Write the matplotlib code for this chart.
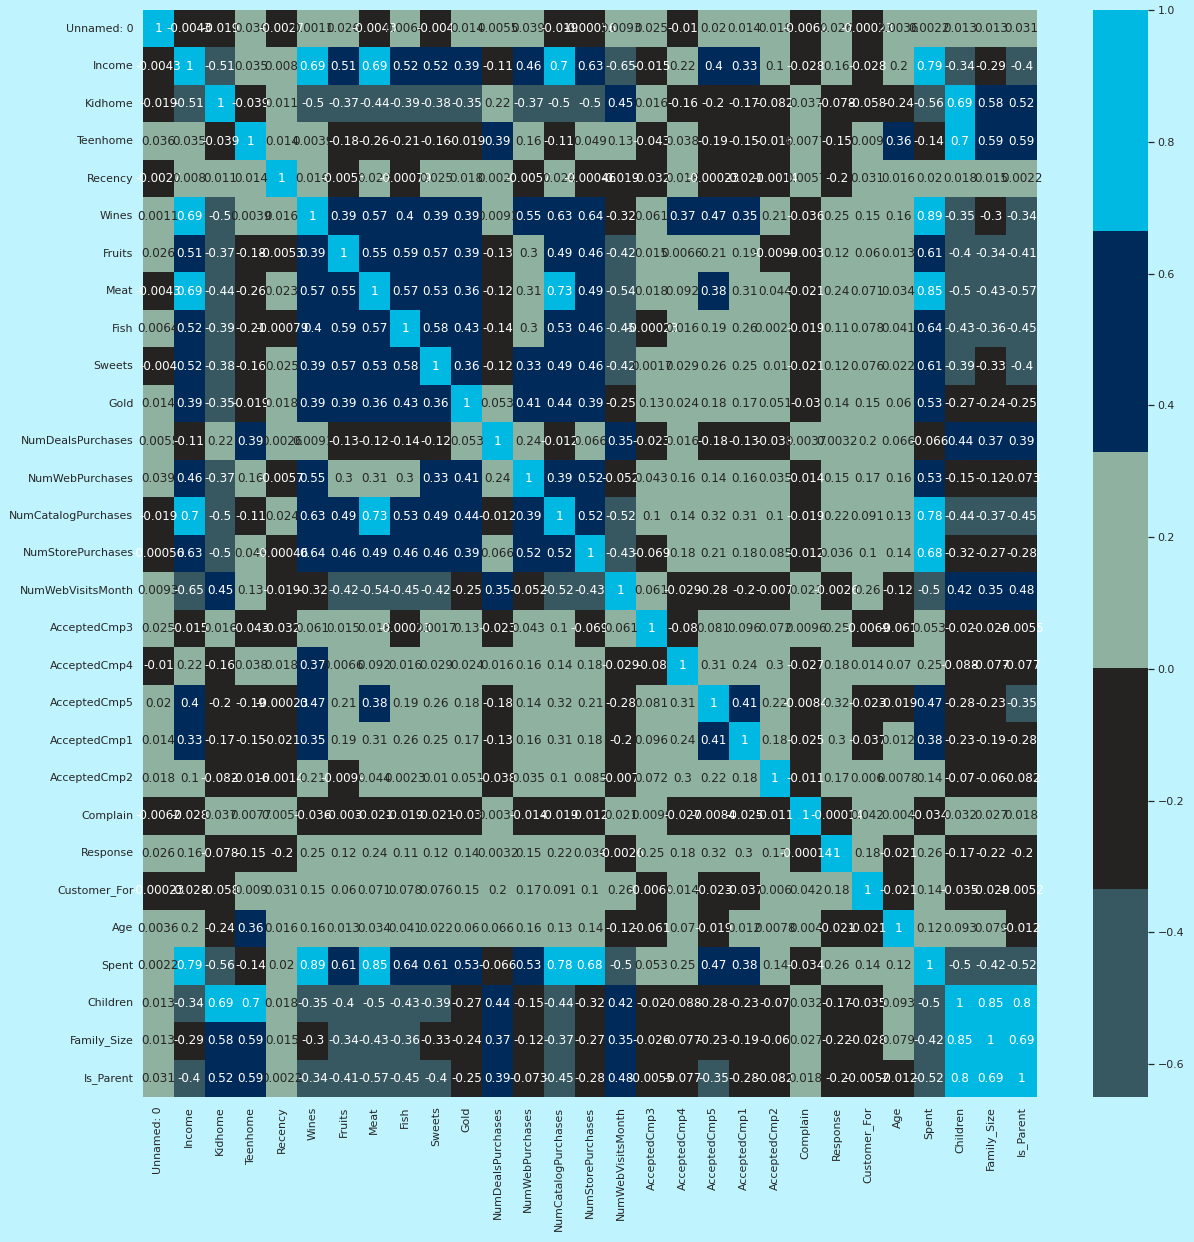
import numpy as np
import pandas as pd
import matplotlib
matplotlib.use("Agg")
import matplotlib.pyplot as plt
from matplotlib import colors
import seaborn as sns

labels = ["Unnamed: 0", "Income", "Kidhome", "Teenhome", "Recency", "Wines", "Fruits",
          "Meat", "Fish", "Sweets", "Gold", "NumDealsPurchases", "NumWebPurchases",
          "NumCatalogPurchases", "NumStorePurchases", "NumWebVisitsMonth", "AcceptedCmp3",
          "AcceptedCmp4", "AcceptedCmp5", "AcceptedCmp1", "AcceptedCmp2", "Complain",
          "Response", "Customer_For", "Age", "Spent", "Children", "Family_Size", "Is_Parent"]

# correlation of each variable with the variables listed after it
unnamed = [-0.0043, -0.019, 0.036, -0.0027, 0.0011, 0.026, -0.0043, 0.0064, -0.004, 0.014,
           0.0055, 0.039, -0.019, -0.00056, 0.0093, 0.025, -0.01, 0.02, 0.014, 0.018,
           -0.0062, 0.026, -0.00023, 0.0036, 0.0022, 0.013, 0.013, 0.031]
income = [-0.51, 0.035, 0.008, 0.69, 0.51, 0.69, 0.52, 0.52, 0.39, -0.11, 0.46, 0.7, 0.63,
          -0.65, -0.015, 0.22, 0.4, 0.33, 0.1, -0.028, 0.16, -0.028, 0.2, 0.79, -0.34, -0.29, -0.4]
kidhome = [-0.039, 0.011, -0.5, -0.37, -0.44, -0.39, -0.38, -0.35, 0.22, -0.37, -0.5, -0.5,
           0.45, 0.016, -0.16, -0.2, -0.17, -0.082, 0.037, -0.078, -0.058, -0.24, -0.56,
           0.69, 0.58, 0.52]
teenhome = [0.014, 0.0039, -0.18, -0.26, -0.21, -0.16, -0.019, 0.39, 0.16, -0.11, 0.049,
            0.13, -0.043, 0.038, -0.19, -0.15, -0.016, 0.0077, -0.15, 0.009, 0.36, -0.14,
            0.7, 0.59, 0.59]
recency = [0.016, -0.0053, 0.023, -0.00079, 0.025, 0.018, 0.0026, -0.0057, 0.024, -0.00046,
           -0.019, -0.032, 0.018, -0.00023, -0.021, -0.0014, 0.0057, -0.2, 0.031, 0.016,
           0.02, 0.018, 0.015, 0.0022]
wines = [0.39, 0.57, 0.4, 0.39, 0.39, 0.0091, 0.55, 0.63, 0.64, -0.32, 0.061, 0.37, 0.47,
         0.35, 0.21, -0.036, 0.25, 0.15, 0.16, 0.89, -0.35, -0.3, -0.34]
fruits = [0.55, 0.59, 0.57, 0.39, -0.13, 0.3, 0.49, 0.46, -0.42, 0.015, 0.0066, 0.21, 0.19,
          -0.0099, -0.003, 0.12, 0.06, 0.013, 0.61, -0.4, -0.34, -0.41]
meat = [0.57, 0.53, 0.36, -0.12, 0.31, 0.73, 0.49, -0.54, 0.018, 0.092, 0.38, 0.31, 0.044,
        -0.021, 0.24, 0.071, 0.034, 0.85, -0.5, -0.43, -0.57]
fish = [0.58, 0.43, -0.14, 0.3, 0.53, 0.46, -0.45, -0.00023, 0.016, 0.19, 0.26, 0.0023,
        -0.019, 0.11, 0.078, 0.041, 0.64, -0.43, -0.36, -0.45]
sweets = [0.36, -0.12, 0.334, 0.49, 0.46, -0.42, 0.0017, 0.029, 0.26, 0.25, 0.01, -0.021,
          0.12, 0.076, 0.022, 0.61, -0.39, -0.33, -0.4]
gold = [0.053, 0.41, 0.44, 0.39, -0.25, 0.13, 0.024, 0.18, 0.17, 0.051, -0.03, 0.14, 0.15,
        0.06, 0.53, -0.27, -0.24, -0.25]
deals = [0.24, -0.012, 0.066, 0.35, -0.023, 0.016, -0.18, -0.13, -0.038, 0.0037, 0.0032,
         0.2, 0.066, -0.066, 0.44, 0.37, 0.39]
web = [0.39, 0.52, -0.052, 0.043, 0.16, 0.14, 0.16, 0.035, -0.014, 0.15, 0.17, 0.16, 0.53,
       -0.15, -0.12, -0.073]
catalog = [0.52, -0.52, 0.1, 0.14, 0.32, 0.31, 0.1, -0.019, 0.22, 0.091, 0.13, 0.78, -0.44,
           -0.37, -0.45]
store = [-0.43, -0.069, 0.18, 0.21, 0.18, 0.085, -0.012, 0.036, 0.1, 0.14, 0.68, -0.32,
         -0.27, -0.28]
visits = [0.061, -0.029, -0.28, -0.2, -0.007, 0.021, -0.0026, 0.26, -0.12, -0.5, 0.42, 0.35, 0.48]
cmp3 = [-0.08, 0.081, 0.096, 0.072, 0.0096, 0.25, -0.0069, -0.061, 0.053, -0.02, -0.026, -0.0055]
cmp4 = [0.31, 0.24, 0.3, -0.027, 0.18, 0.014, 0.07, 0.25, -0.088, -0.077, -0.077]
cmp5 = [0.41, 0.22, -0.0084, 0.32, -0.023, -0.019, 0.47, -0.28, -0.23, -0.35]
cmp1 = [0.18, -0.025, 0.3, -0.037, 0.012, 0.38, -0.23, -0.19, -0.28]
cmp2 = [-0.011, 0.17, 0.006, 0.0078, 0.14, -0.07, -0.06, -0.082]
complain = [-0.00014, 0.042, 0.004, -0.034, 0.032, 0.027, 0.018]
response = [0.18, -0.021, 0.26, -0.17, -0.22, -0.2]
customer_for = [-0.021, 0.14, -0.035, -0.028, -0.0052]
age = [0.12, 0.093, 0.079, -0.012]
spent = [-0.5, -0.42, -0.52]
children = [0.85, 0.8]
family_size = [0.69]

rows = [unnamed, income, kidhome, teenhome, recency, wines, fruits, meat, fish, sweets, gold,
        deals, web, catalog, store, visits, cmp3, cmp4, cmp5, cmp1, cmp2, complain, response,
        customer_for, age, spent, children, family_size]

n = len(labels)
corr = np.eye(n)
for i, r in enumerate(rows):
    corr[i, i + 1:] = r
    corr[i + 1:, i] = r
corrmat = pd.DataFrame(corr, index=labels, columns=labels)

bg = "#BFF4FF"
sage = "#8FB19F"
sns.set_theme(rc={"axes.facecolor": bg, "figure.facecolor": bg})
cmap = colors.ListedColormap(["#1E3A40", "#375860", "#242322", sage, "#002A5A", "#00B9E2"])

W, H = 1194, 1242
fig = plt.figure(figsize=(W / 72, H / 72), dpi=72)
ax = fig.add_axes([143 / W, 145 / H, 894 / W, 1087 / H])
cax = fig.add_axes([1093 / W, 145 / H, 55 / W, 1087 / H])
sns.heatmap(corrmat, annot=True, cmap=cmap, center=0, ax=ax, cbar_ax=cax,
            xticklabels=labels, yticklabels=labels)
ax.tick_params(axis="x", labelrotation=90)
ax.tick_params(axis="y", labelrotation=0)

# dark text on the light cells, white elsewhere
fcs = ax.collections[0].get_facecolors()
for txt, fc in zip(ax.texts, fcs):
    if np.allclose(fc[:3], colors.to_rgb(sage), atol=0.03):
        txt.set_color(".15")
    else:
        txt.set_color("w")

fig.savefig("out.png", dpi=72, facecolor=bg)
